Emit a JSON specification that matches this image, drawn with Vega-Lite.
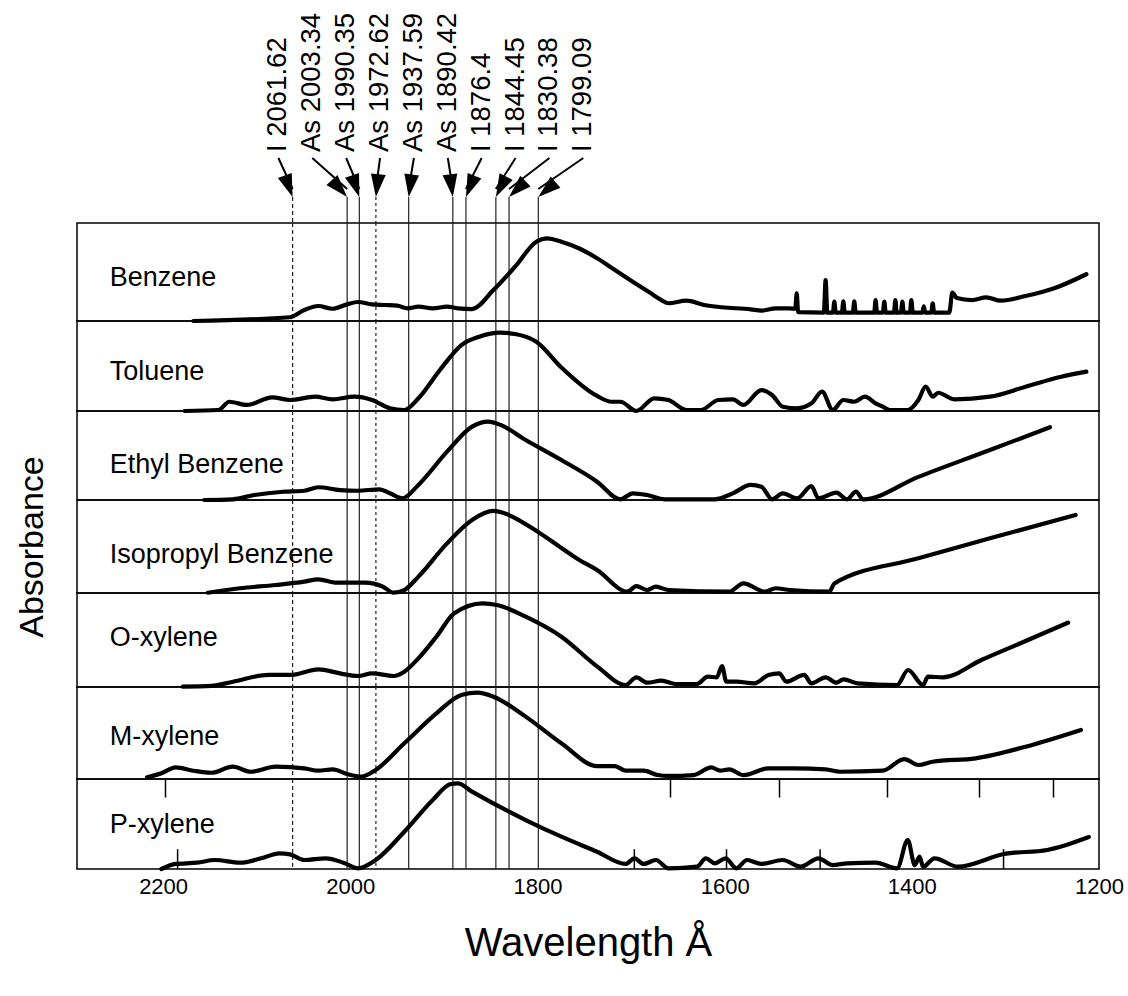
{
  "$schema": "https://vega.github.io/schema/vega-lite/v6.json",
  "padding": {"left": 14, "top": 0, "right": 10, "bottom": 10},
  "background": "white",
  "config": {
    "font": "Liberation Sans",
    "view": {"stroke": "black", "strokeWidth": 1.5},
    "axis": {"grid": false, "domain": false, "tickColor": "black", "tickWidth": 1.5, "labelColor": "black", "titleColor": "black"},
    "line": {"interpolate": "monotone", "strokeWidth": 4.2, "color": "black", "strokeJoin": "round", "strokeCap": "round"}
  },
  "datasets": {
    "lines": [
      {"label": "I 2061.62", "w": 2061.62},
      {"label": "As 2003.34", "w": 2003.34},
      {"label": "As 1990.35", "w": 1990.35},
      {"label": "As 1972.62", "w": 1972.62},
      {"label": "As 1937.59", "w": 1937.59},
      {"label": "As 1890.42", "w": 1890.42},
      {"label": "I 1876.4", "w": 1876.4},
      {"label": "I 1844.45", "w": 1844.45},
      {"label": "I 1830.38", "w": 1830.38},
      {"label": "I 1799.09", "w": 1799.09}
    ],
    "names": [
      {"c": "Benzene", "pos": 0.436},
      {"c": "Toluene", "pos": 0.437},
      {"c": "Ethyl Benzene", "pos": 0.393},
      {"c": "Isopropyl Benzene", "pos": 0.409},
      {"c": "O-xylene", "pos": 0.518},
      {"c": "M-xylene", "pos": 0.46},
      {"c": "P-xylene", "pos": 0.489}
    ],
    "spectra": [
      {"c": "Benzene", "w": 2167.6, "a": 0},
      {"c": "Benzene", "w": 2064.4, "a": 0.038},
      {"c": "Benzene", "w": 2049.1, "a": 0.112},
      {"c": "Benzene", "w": 2034.1, "a": 0.153},
      {"c": "Benzene", "w": 2019.1, "a": 0.125},
      {"c": "Benzene", "w": 2003.4, "a": 0.17},
      {"c": "Benzene", "w": 1992.0, "a": 0.194},
      {"c": "Benzene", "w": 1976.7, "a": 0.17},
      {"c": "Benzene", "w": 1963.6, "a": 0.163},
      {"c": "Benzene", "w": 1950.0, "a": 0.156},
      {"c": "Benzene", "w": 1938.6, "a": 0.129},
      {"c": "Benzene", "w": 1927.2, "a": 0.146},
      {"c": "Benzene", "w": 1911.9, "a": 0.129},
      {"c": "Benzene", "w": 1896.6, "a": 0.146},
      {"c": "Benzene", "w": 1885.1, "a": 0.129},
      {"c": "Benzene", "w": 1869.9, "a": 0.122},
      {"c": "Benzene", "w": 1847.1, "a": 0.316},
      {"c": "Benzene", "w": 1824.0, "a": 0.554},
      {"c": "Benzene", "w": 1801.2, "a": 0.809},
      {"c": "Benzene", "w": 1789.7, "a": 0.844},
      {"c": "Benzene", "w": 1774.4, "a": 0.809},
      {"c": "Benzene", "w": 1755.3, "a": 0.74},
      {"c": "Benzene", "w": 1736.3, "a": 0.64},
      {"c": "Benzene", "w": 1717.2, "a": 0.52},
      {"c": "Benzene", "w": 1698.2, "a": 0.401},
      {"c": "Benzene", "w": 1680.0, "a": 0.29},
      {"c": "Benzene", "w": 1667.6, "a": 0.214},
      {"c": "Benzene", "w": 1660.1, "a": 0.181},
      {"c": "Benzene", "w": 1640.9, "a": 0.207},
      {"c": "Benzene", "w": 1621.8, "a": 0.163},
      {"c": "Benzene", "w": 1602.8, "a": 0.14},
      {"c": "Benzene", "w": 1572.2, "a": 0.119},
      {"c": "Benzene", "w": 1560.8, "a": 0.105},
      {"c": "Benzene", "w": 1545.5, "a": 0.129},
      {"c": "Benzene", "w": 1530.2, "a": 0.129},
      {"c": "Benzene", "w": 1524.5, "a": 0.125},
      {"c": "Benzene", "w": 1523.0, "a": 0.283},
      {"c": "Benzene", "w": 1521.5, "a": 0.09},
      {"c": "Benzene", "w": 1494.0, "a": 0.085},
      {"c": "Benzene", "w": 1492.1, "a": 0.418},
      {"c": "Benzene", "w": 1490.3, "a": 0.085},
      {"c": "Benzene", "w": 1484.3, "a": 0.085},
      {"c": "Benzene", "w": 1482.8, "a": 0.197},
      {"c": "Benzene", "w": 1481.3, "a": 0.085},
      {"c": "Benzene", "w": 1474.7, "a": 0.085},
      {"c": "Benzene", "w": 1473.2, "a": 0.2},
      {"c": "Benzene", "w": 1471.7, "a": 0.085},
      {"c": "Benzene", "w": 1463.0, "a": 0.085},
      {"c": "Benzene", "w": 1461.5, "a": 0.2},
      {"c": "Benzene", "w": 1460.0, "a": 0.085},
      {"c": "Benzene", "w": 1440.2, "a": 0.085},
      {"c": "Benzene", "w": 1438.7, "a": 0.214},
      {"c": "Benzene", "w": 1437.2, "a": 0.085},
      {"c": "Benzene", "w": 1430.9, "a": 0.085},
      {"c": "Benzene", "w": 1429.4, "a": 0.197},
      {"c": "Benzene", "w": 1427.9, "a": 0.085},
      {"c": "Benzene", "w": 1419.1, "a": 0.085},
      {"c": "Benzene", "w": 1417.6, "a": 0.214},
      {"c": "Benzene", "w": 1416.1, "a": 0.085},
      {"c": "Benzene", "w": 1411.6, "a": 0.085},
      {"c": "Benzene", "w": 1410.1, "a": 0.197},
      {"c": "Benzene", "w": 1408.6, "a": 0.085},
      {"c": "Benzene", "w": 1402.0, "a": 0.085},
      {"c": "Benzene", "w": 1400.5, "a": 0.214},
      {"c": "Benzene", "w": 1399.0, "a": 0.085},
      {"c": "Benzene", "w": 1388.7, "a": 0.085},
      {"c": "Benzene", "w": 1387.2, "a": 0.15},
      {"c": "Benzene", "w": 1385.7, "a": 0.085},
      {"c": "Benzene", "w": 1379.2, "a": 0.085},
      {"c": "Benzene", "w": 1377.7, "a": 0.18},
      {"c": "Benzene", "w": 1376.2, "a": 0.085},
      {"c": "Benzene", "w": 1360.0, "a": 0.085},
      {"c": "Benzene", "w": 1356.7, "a": 0.289},
      {"c": "Benzene", "w": 1352.0, "a": 0.235},
      {"c": "Benzene", "w": 1335.7, "a": 0.214},
      {"c": "Benzene", "w": 1320.4, "a": 0.242},
      {"c": "Benzene", "w": 1305.1, "a": 0.207},
      {"c": "Benzene", "w": 1278.4, "a": 0.255},
      {"c": "Benzene", "w": 1247.8, "a": 0.334},
      {"c": "Benzene", "w": 1213.5, "a": 0.477},

      {"c": "Toluene", "w": 2177.0, "a": 0},
      {"c": "Toluene", "w": 2140.9, "a": 0.011},
      {"c": "Toluene", "w": 2129.3, "a": 0.103},
      {"c": "Toluene", "w": 2110.3, "a": 0.067},
      {"c": "Toluene", "w": 2083.5, "a": 0.152},
      {"c": "Toluene", "w": 2064.4, "a": 0.122},
      {"c": "Toluene", "w": 2037.7, "a": 0.159},
      {"c": "Toluene", "w": 2018.7, "a": 0.13},
      {"c": "Toluene", "w": 1995.7, "a": 0.159},
      {"c": "Toluene", "w": 1976.7, "a": 0.122},
      {"c": "Toluene", "w": 1957.6, "a": 0.03},
      {"c": "Toluene", "w": 1942.3, "a": 0.011},
      {"c": "Toluene", "w": 1927.2, "a": 0.141},
      {"c": "Toluene", "w": 1904.2, "a": 0.456},
      {"c": "Toluene", "w": 1881.3, "a": 0.733},
      {"c": "Toluene", "w": 1862.2, "a": 0.826},
      {"c": "Toluene", "w": 1839.3, "a": 0.87},
      {"c": "Toluene", "w": 1824.0, "a": 0.856},
      {"c": "Toluene", "w": 1801.2, "a": 0.77},
      {"c": "Toluene", "w": 1774.4, "a": 0.483},
      {"c": "Toluene", "w": 1736.3, "a": 0.167},
      {"c": "Toluene", "w": 1721.0, "a": 0.103},
      {"c": "Toluene", "w": 1711.4, "a": 0.103},
      {"c": "Toluene", "w": 1694.3, "a": 0},
      {"c": "Toluene", "w": 1675.2, "a": 0.141},
      {"c": "Toluene", "w": 1660.1, "a": 0.122},
      {"c": "Toluene", "w": 1640.9, "a": 0.011},
      {"c": "Toluene", "w": 1625.6, "a": 0.011},
      {"c": "Toluene", "w": 1606.7, "a": 0.122},
      {"c": "Toluene", "w": 1591.3, "a": 0.13},
      {"c": "Toluene", "w": 1580.0, "a": 0.067},
      {"c": "Toluene", "w": 1560.8, "a": 0.233},
      {"c": "Toluene", "w": 1549.3, "a": 0.178},
      {"c": "Toluene", "w": 1537.9, "a": 0.048},
      {"c": "Toluene", "w": 1522.6, "a": 0.03},
      {"c": "Toluene", "w": 1507.3, "a": 0.085},
      {"c": "Toluene", "w": 1495.9, "a": 0.215},
      {"c": "Toluene", "w": 1484.5, "a": 0.011},
      {"c": "Toluene", "w": 1473.2, "a": 0.122},
      {"c": "Toluene", "w": 1461.5, "a": 0.103},
      {"c": "Toluene", "w": 1450.1, "a": 0.159},
      {"c": "Toluene", "w": 1438.7, "a": 0.085},
      {"c": "Toluene", "w": 1431.1, "a": 0.048},
      {"c": "Toluene", "w": 1423.4, "a": 0.011},
      {"c": "Toluene", "w": 1404.4, "a": 0.011},
      {"c": "Toluene", "w": 1393.0, "a": 0.122},
      {"c": "Toluene", "w": 1385.2, "a": 0.27},
      {"c": "Toluene", "w": 1377.7, "a": 0.159},
      {"c": "Toluene", "w": 1371.9, "a": 0.203},
      {"c": "Toluene", "w": 1354.7, "a": 0.13},
      {"c": "Toluene", "w": 1316.5, "a": 0.159},
      {"c": "Toluene", "w": 1278.4, "a": 0.27},
      {"c": "Toluene", "w": 1240.3, "a": 0.381},
      {"c": "Toluene", "w": 1213.5, "a": 0.437},

      {"c": "Ethyl Benzene", "w": 2156.0, "a": 0},
      {"c": "Ethyl Benzene", "w": 2125.5, "a": 0.008},
      {"c": "Ethyl Benzene", "w": 2102.6, "a": 0.056},
      {"c": "Ethyl Benzene", "w": 2072.1, "a": 0.093},
      {"c": "Ethyl Benzene", "w": 2049.1, "a": 0.104},
      {"c": "Ethyl Benzene", "w": 2034.1, "a": 0.143},
      {"c": "Ethyl Benzene", "w": 2011.0, "a": 0.112},
      {"c": "Ethyl Benzene", "w": 1991.9, "a": 0.104},
      {"c": "Ethyl Benzene", "w": 1969.0, "a": 0.12},
      {"c": "Ethyl Benzene", "w": 1957.6, "a": 0.075},
      {"c": "Ethyl Benzene", "w": 1944.2, "a": 0.019},
      {"c": "Ethyl Benzene", "w": 1927.2, "a": 0.169},
      {"c": "Ethyl Benzene", "w": 1896.6, "a": 0.543},
      {"c": "Ethyl Benzene", "w": 1869.9, "a": 0.824},
      {"c": "Ethyl Benzene", "w": 1852.7, "a": 0.88},
      {"c": "Ethyl Benzene", "w": 1839.3, "a": 0.843},
      {"c": "Ethyl Benzene", "w": 1812.6, "a": 0.674},
      {"c": "Ethyl Benzene", "w": 1774.4, "a": 0.449},
      {"c": "Ethyl Benzene", "w": 1736.3, "a": 0.206},
      {"c": "Ethyl Benzene", "w": 1711.4, "a": 0.008},
      {"c": "Ethyl Benzene", "w": 1698.2, "a": 0.075},
      {"c": "Ethyl Benzene", "w": 1682.9, "a": 0.056},
      {"c": "Ethyl Benzene", "w": 1663.8, "a": 0.008},
      {"c": "Ethyl Benzene", "w": 1610.4, "a": 0.008},
      {"c": "Ethyl Benzene", "w": 1591.3, "a": 0.075},
      {"c": "Ethyl Benzene", "w": 1572.2, "a": 0.169},
      {"c": "Ethyl Benzene", "w": 1560.8, "a": 0.15},
      {"c": "Ethyl Benzene", "w": 1549.3, "a": 0.008},
      {"c": "Ethyl Benzene", "w": 1537.9, "a": 0.075},
      {"c": "Ethyl Benzene", "w": 1522.6, "a": 0.019},
      {"c": "Ethyl Benzene", "w": 1507.3, "a": 0.157},
      {"c": "Ethyl Benzene", "w": 1499.8, "a": 0.019},
      {"c": "Ethyl Benzene", "w": 1480.6, "a": 0.082},
      {"c": "Ethyl Benzene", "w": 1469.2, "a": 0.008},
      {"c": "Ethyl Benzene", "w": 1459.7, "a": 0.093},
      {"c": "Ethyl Benzene", "w": 1452.0, "a": 0.008},
      {"c": "Ethyl Benzene", "w": 1393.0, "a": 0.26},
      {"c": "Ethyl Benzene", "w": 1316.5, "a": 0.562},
      {"c": "Ethyl Benzene", "w": 1252.4, "a": 0.817},

      {"c": "Isopropyl Benzene", "w": 2152.2, "a": 0.003},
      {"c": "Isopropyl Benzene", "w": 2117.8, "a": 0.051},
      {"c": "Isopropyl Benzene", "w": 2079.7, "a": 0.086},
      {"c": "Isopropyl Benzene", "w": 2049.1, "a": 0.122},
      {"c": "Isopropyl Benzene", "w": 2034.1, "a": 0.147},
      {"c": "Isopropyl Benzene", "w": 2014.8, "a": 0.111},
      {"c": "Isopropyl Benzene", "w": 1984.3, "a": 0.111},
      {"c": "Isopropyl Benzene", "w": 1965.3, "a": 0.068},
      {"c": "Isopropyl Benzene", "w": 1953.8, "a": 0.003},
      {"c": "Isopropyl Benzene", "w": 1942.3, "a": 0.032},
      {"c": "Isopropyl Benzene", "w": 1927.2, "a": 0.176},
      {"c": "Isopropyl Benzene", "w": 1896.6, "a": 0.534},
      {"c": "Isopropyl Benzene", "w": 1869.9, "a": 0.785},
      {"c": "Isopropyl Benzene", "w": 1847.0, "a": 0.882},
      {"c": "Isopropyl Benzene", "w": 1835.5, "a": 0.857},
      {"c": "Isopropyl Benzene", "w": 1797.3, "a": 0.642},
      {"c": "Isopropyl Benzene", "w": 1774.4, "a": 0.484},
      {"c": "Isopropyl Benzene", "w": 1755.3, "a": 0.355},
      {"c": "Isopropyl Benzene", "w": 1736.3, "a": 0.247},
      {"c": "Isopropyl Benzene", "w": 1703.9, "a": 0.014},
      {"c": "Isopropyl Benzene", "w": 1694.3, "a": 0.075},
      {"c": "Isopropyl Benzene", "w": 1682.9, "a": 0.032},
      {"c": "Isopropyl Benzene", "w": 1673.4, "a": 0.068},
      {"c": "Isopropyl Benzene", "w": 1660.1, "a": 0.032},
      {"c": "Isopropyl Benzene", "w": 1595.1, "a": 0.014},
      {"c": "Isopropyl Benzene", "w": 1580.0, "a": 0.104},
      {"c": "Isopropyl Benzene", "w": 1556.9, "a": 0.014},
      {"c": "Isopropyl Benzene", "w": 1545.5, "a": 0.051},
      {"c": "Isopropyl Benzene", "w": 1530.2, "a": 0.032},
      {"c": "Isopropyl Benzene", "w": 1488.2, "a": 0.014},
      {"c": "Isopropyl Benzene", "w": 1482.6, "a": 0.104},
      {"c": "Isopropyl Benzene", "w": 1393.0, "a": 0.373},
      {"c": "Isopropyl Benzene", "w": 1316.5, "a": 0.588},
      {"c": "Isopropyl Benzene", "w": 1225.0, "a": 0.839},

      {"c": "O-xylene", "w": 2179.1, "a": 0.003},
      {"c": "O-xylene", "w": 2148.4, "a": 0.011},
      {"c": "O-xylene", "w": 2125.5, "a": 0.056},
      {"c": "O-xylene", "w": 2087.4, "a": 0.128},
      {"c": "O-xylene", "w": 2064.4, "a": 0.128},
      {"c": "O-xylene", "w": 2034.1, "a": 0.188},
      {"c": "O-xylene", "w": 2011.0, "a": 0.145},
      {"c": "O-xylene", "w": 1991.9, "a": 0.117},
      {"c": "O-xylene", "w": 1976.7, "a": 0.145},
      {"c": "O-xylene", "w": 1953.8, "a": 0.117},
      {"c": "O-xylene", "w": 1942.3, "a": 0.163},
      {"c": "O-xylene", "w": 1927.2, "a": 0.305},
      {"c": "O-xylene", "w": 1908.0, "a": 0.535},
      {"c": "O-xylene", "w": 1888.9, "a": 0.784},
      {"c": "O-xylene", "w": 1858.4, "a": 0.89},
      {"c": "O-xylene", "w": 1843.2, "a": 0.872},
      {"c": "O-xylene", "w": 1812.6, "a": 0.748},
      {"c": "O-xylene", "w": 1774.4, "a": 0.535},
      {"c": "O-xylene", "w": 1736.3, "a": 0.22},
      {"c": "O-xylene", "w": 1705.8, "a": 0.021},
      {"c": "O-xylene", "w": 1694.3, "a": 0.103},
      {"c": "O-xylene", "w": 1682.9, "a": 0.046},
      {"c": "O-xylene", "w": 1667.6, "a": 0.067},
      {"c": "O-xylene", "w": 1652.3, "a": 0.032},
      {"c": "O-xylene", "w": 1629.5, "a": 0.032},
      {"c": "O-xylene", "w": 1618.0, "a": 0.11},
      {"c": "O-xylene", "w": 1608.4, "a": 0.103},
      {"c": "O-xylene", "w": 1602.8, "a": 0.223},
      {"c": "O-xylene", "w": 1598.2, "a": 0.057},
      {"c": "O-xylene", "w": 1587.5, "a": 0.057},
      {"c": "O-xylene", "w": 1568.4, "a": 0.039},
      {"c": "O-xylene", "w": 1553.2, "a": 0.128},
      {"c": "O-xylene", "w": 1541.7, "a": 0.145},
      {"c": "O-xylene", "w": 1534.1, "a": 0.057},
      {"c": "O-xylene", "w": 1515.0, "a": 0.128},
      {"c": "O-xylene", "w": 1507.3, "a": 0.039},
      {"c": "O-xylene", "w": 1492.1, "a": 0.103},
      {"c": "O-xylene", "w": 1480.6, "a": 0.046},
      {"c": "O-xylene", "w": 1473.0, "a": 0.082},
      {"c": "O-xylene", "w": 1457.8, "a": 0.039},
      {"c": "O-xylene", "w": 1415.8, "a": 0.021},
      {"c": "O-xylene", "w": 1404.0, "a": 0.181},
      {"c": "O-xylene", "w": 1388.0, "a": 0.021},
      {"c": "O-xylene", "w": 1382.7, "a": 0.11},
      {"c": "O-xylene", "w": 1366.7, "a": 0.103},
      {"c": "O-xylene", "w": 1325.7, "a": 0.287},
      {"c": "O-xylene", "w": 1278.4, "a": 0.489},
      {"c": "O-xylene", "w": 1233.1, "a": 0.684},

      {"c": "M-xylene", "w": 2217.1, "a": 0.018},
      {"c": "M-xylene", "w": 2201.8, "a": 0.062},
      {"c": "M-xylene", "w": 2186.5, "a": 0.127},
      {"c": "M-xylene", "w": 2167.5, "a": 0.09},
      {"c": "M-xylene", "w": 2148.4, "a": 0.068},
      {"c": "M-xylene", "w": 2125.5, "a": 0.134},
      {"c": "M-xylene", "w": 2106.4, "a": 0.079},
      {"c": "M-xylene", "w": 2079.7, "a": 0.134},
      {"c": "M-xylene", "w": 2049.1, "a": 0.116},
      {"c": "M-xylene", "w": 2034.1, "a": 0.09},
      {"c": "M-xylene", "w": 2018.7, "a": 0.105},
      {"c": "M-xylene", "w": 2003.4, "a": 0.054},
      {"c": "M-xylene", "w": 1988.1, "a": 0.025},
      {"c": "M-xylene", "w": 1972.9, "a": 0.098},
      {"c": "M-xylene", "w": 1942.3, "a": 0.388},
      {"c": "M-xylene", "w": 1908.0, "a": 0.714},
      {"c": "M-xylene", "w": 1881.3, "a": 0.913},
      {"c": "M-xylene", "w": 1864.1, "a": 0.938},
      {"c": "M-xylene", "w": 1847.0, "a": 0.895},
      {"c": "M-xylene", "w": 1812.6, "a": 0.678},
      {"c": "M-xylene", "w": 1774.4, "a": 0.388},
      {"c": "M-xylene", "w": 1736.3, "a": 0.141},
      {"c": "M-xylene", "w": 1717.2, "a": 0.141},
      {"c": "M-xylene", "w": 1705.8, "a": 0.09},
      {"c": "M-xylene", "w": 1686.7, "a": 0.09},
      {"c": "M-xylene", "w": 1671.5, "a": 0.043},
      {"c": "M-xylene", "w": 1660.0, "a": 0.033},
      {"c": "M-xylene", "w": 1633.3, "a": 0.043},
      {"c": "M-xylene", "w": 1614.2, "a": 0.127},
      {"c": "M-xylene", "w": 1604.7, "a": 0.09},
      {"c": "M-xylene", "w": 1595.1, "a": 0.105},
      {"c": "M-xylene", "w": 1579.9, "a": 0.043},
      {"c": "M-xylene", "w": 1553.2, "a": 0.116},
      {"c": "M-xylene", "w": 1526.5, "a": 0.116},
      {"c": "M-xylene", "w": 1492.1, "a": 0.105},
      {"c": "M-xylene", "w": 1476.8, "a": 0.079},
      {"c": "M-xylene", "w": 1431.1, "a": 0.09},
      {"c": "M-xylene", "w": 1408.1, "a": 0.217},
      {"c": "M-xylene", "w": 1392.9, "a": 0.152},
      {"c": "M-xylene", "w": 1377.7, "a": 0.188},
      {"c": "M-xylene", "w": 1331.8, "a": 0.225},
      {"c": "M-xylene", "w": 1278.4, "a": 0.351},
      {"c": "M-xylene", "w": 1219.3, "a": 0.533},

      {"c": "P-xylene", "w": 2201.8, "a": 0},
      {"c": "P-xylene", "w": 2186.5, "a": 0.056},
      {"c": "P-xylene", "w": 2163.7, "a": 0.07},
      {"c": "P-xylene", "w": 2144.5, "a": 0.1},
      {"c": "P-xylene", "w": 2117.8, "a": 0.07},
      {"c": "P-xylene", "w": 2095.0, "a": 0.119},
      {"c": "P-xylene", "w": 2075.9, "a": 0.174},
      {"c": "P-xylene", "w": 2064.4, "a": 0.163},
      {"c": "P-xylene", "w": 2049.1, "a": 0.1},
      {"c": "P-xylene", "w": 2026.3, "a": 0.119},
      {"c": "P-xylene", "w": 2007.3, "a": 0.07},
      {"c": "P-xylene", "w": 1992.0, "a": 0.008},
      {"c": "P-xylene", "w": 1972.9, "a": 0.1},
      {"c": "P-xylene", "w": 1942.3, "a": 0.414},
      {"c": "P-xylene", "w": 1911.9, "a": 0.767},
      {"c": "P-xylene", "w": 1892.7, "a": 0.944},
      {"c": "P-xylene", "w": 1885.1, "a": 0.952},
      {"c": "P-xylene", "w": 1869.9, "a": 0.859},
      {"c": "P-xylene", "w": 1812.6, "a": 0.544},
      {"c": "P-xylene", "w": 1774.4, "a": 0.359},
      {"c": "P-xylene", "w": 1736.3, "a": 0.192},
      {"c": "P-xylene", "w": 1705.8, "a": 0.056},
      {"c": "P-xylene", "w": 1696.3, "a": 0.119},
      {"c": "P-xylene", "w": 1686.7, "a": 0.056},
      {"c": "P-xylene", "w": 1673.4, "a": 0.1},
      {"c": "P-xylene", "w": 1660.0, "a": 0.008},
      {"c": "P-xylene", "w": 1629.5, "a": 0.026},
      {"c": "P-xylene", "w": 1620.0, "a": 0.119},
      {"c": "P-xylene", "w": 1610.4, "a": 0.063},
      {"c": "P-xylene", "w": 1599.0, "a": 0.119},
      {"c": "P-xylene", "w": 1587.5, "a": 0.008},
      {"c": "P-xylene", "w": 1576.1, "a": 0.1},
      {"c": "P-xylene", "w": 1560.8, "a": 0.056},
      {"c": "P-xylene", "w": 1537.9, "a": 0.1},
      {"c": "P-xylene", "w": 1518.8, "a": 0.026},
      {"c": "P-xylene", "w": 1499.8, "a": 0.119},
      {"c": "P-xylene", "w": 1484.5, "a": 0.044},
      {"c": "P-xylene", "w": 1469.2, "a": 0.063},
      {"c": "P-xylene", "w": 1438.7, "a": 0.07},
      {"c": "P-xylene", "w": 1415.8, "a": 0.008},
      {"c": "P-xylene", "w": 1404.3, "a": 0.322},
      {"c": "P-xylene", "w": 1396.8, "a": 0.044},
      {"c": "P-xylene", "w": 1391.7, "a": 0.137},
      {"c": "P-xylene", "w": 1388.0, "a": 0.026},
      {"c": "P-xylene", "w": 1375.7, "a": 0.119},
      {"c": "P-xylene", "w": 1350.8, "a": 0.026},
      {"c": "P-xylene", "w": 1301.2, "a": 0.167},
      {"c": "P-xylene", "w": 1255.2, "a": 0.211},
      {"c": "P-xylene", "w": 1210.9, "a": 0.355}
    ]
  },
  "vconcat": [
    {
      "width": 1022,
      "height": 223,
      "view": {"stroke": null},
      "data": {"name": "lines"},
      "transform": [
        {"window": [{"op": "row_number", "as": "rank"}], "sort": [{"field": "w", "order": "descending"}]},
        {"calculate": "2076.8 - (datum.rank - 1) * 36.2", "as": "lx"},
        {"calculate": "atan2(-(datum.lx - datum.w) * 0.936, 39) * 180 / PI", "as": "ang"}
      ],
      "layer": [
        {
          "mark": {"type": "rule", "strokeWidth": 1.2, "color": "#222"},
          "encoding": {
            "x": {"field": "w", "type": "quantitative", "scale": {"domain": [1200, 2292], "reverse": true, "nice": false, "zero": false}, "axis": null},
            "y": {"datum": 26, "type": "quantitative", "scale": {"domain": [0, 223], "nice": false}, "axis": null},
            "y2": {"datum": 0},
            "strokeDash": {"field": "label", "type": "nominal", "legend": null, "scale": {"domain": ["I 2061.62", "As 2003.34", "As 1990.35", "As 1972.62", "As 1937.59", "As 1890.42", "I 1876.4", "I 1844.45", "I 1830.38", "I 1799.09"], "range": [[4, 3], [1, 0], [1, 0], [3, 3], [1, 0], [1, 0], [1, 0], [1, 0], [1, 0], [1, 0]]}}
          }
        },
        {
          "mark": {"type": "rule", "strokeWidth": 2, "color": "black"},
          "encoding": {
            "x": {"field": "lx", "type": "quantitative", "axis": null},
            "x2": {"field": "w"},
            "y": {"datum": 65, "type": "quantitative", "axis": null},
            "y2": {"datum": 34}
          }
        },
        {
          "mark": {"type": "point", "shape": "M0,0L-0.65,-2L0.65,-2Z", "filled": true, "color": "black", "opacity": 1, "size": 520},
          "encoding": {
            "x": {"field": "w", "type": "quantitative", "axis": null},
            "y": {"datum": 26, "type": "quantitative", "axis": null},
            "angle": {"field": "ang", "type": "quantitative", "scale": null}
          }
        },
        {
          "mark": {"type": "text", "angle": 270, "align": "left", "baseline": "middle", "fontSize": 27.5, "color": "black"},
          "encoding": {
            "x": {"field": "lx", "type": "quantitative", "axis": null},
            "y": {"datum": 71, "type": "quantitative", "axis": null},
            "text": {"field": "label", "type": "nominal"}
          }
        }
      ]
    },
    {
      "width": 1022,
      "height": 98,
      "layer": [
        {"data": {"name": "lines"}, "mark": {"type": "rule", "strokeWidth": 1.2, "color": "#222"},
          "encoding": {
            "x": {"field": "w", "type": "quantitative", "scale": {"domain": [1200, 2292], "reverse": true, "nice": false, "zero": false},
              "axis": {"orient": "top", "values": [2188.5, 1701.8, 1600.9, 1502.5, 1404.4, 1308.2], "tickSize": -25, "labels": false, "title": null, "domain": false}},
            "strokeDash": {"field": "label", "type": "nominal", "legend": null, "scale": {"domain": ["I 2061.62", "As 2003.34", "As 1990.35", "As 1972.62", "As 1937.59", "As 1890.42", "I 1876.4", "I 1844.45", "I 1830.38", "I 1799.09"], "range": [[4, 3], [1, 0], [1, 0], [3, 3], [1, 0], [1, 0], [1, 0], [1, 0], [1, 0], [1, 0]]}}}},
        {"data": {"name": "spectra"}, "transform": [{"filter": "datum.c === 'Benzene'"}],
          "mark": {"type": "line"},
          "encoding": {"x": {"field": "w", "type": "quantitative", "axis": null}, "y": {"field": "a", "type": "quantitative", "scale": {"domain": [0, 1], "nice": false}, "axis": null}}},
        {"data": {"name": "names"}, "transform": [{"filter": "datum.c === 'Benzene'"}],
          "mark": {"type": "text", "align": "left", "baseline": "middle", "fontSize": 27, "color": "black"},
          "encoding": {"x": {"datum": 2257, "type": "quantitative", "axis": null}, "y": {"field": "pos", "type": "quantitative", "axis": null}, "text": {"field": "c", "type": "nominal"}}}
      ]
    },
    {
      "width": 1022,
      "height": 90,
      "layer": [
        {"data": {"name": "lines"}, "mark": {"type": "rule", "strokeWidth": 1.2, "color": "#222"},
          "encoding": {
            "x": {"field": "w", "type": "quantitative", "scale": {"domain": [1200, 2292], "reverse": true, "nice": false, "zero": false},
              "axis": {"orient": "top", "values": [2200, 1660.8, 1544.3, 1429.2, 1330.7, 1252.5], "tickSize": -20, "labels": false, "title": null, "domain": false}},
            "strokeDash": {"field": "label", "type": "nominal", "legend": null, "scale": {"domain": ["I 2061.62", "As 2003.34", "As 1990.35", "As 1972.62", "As 1937.59", "As 1890.42", "I 1876.4", "I 1844.45", "I 1830.38", "I 1799.09"], "range": [[4, 3], [1, 0], [1, 0], [3, 3], [1, 0], [1, 0], [1, 0], [1, 0], [1, 0], [1, 0]]}}}},
        {"data": {"name": "spectra"}, "transform": [{"filter": "datum.c === 'Toluene'"}],
          "mark": {"type": "line"},
          "encoding": {"x": {"field": "w", "type": "quantitative", "axis": null}, "y": {"field": "a", "type": "quantitative", "scale": {"domain": [0, 1], "nice": false}, "axis": null}}},
        {"data": {"name": "names"}, "transform": [{"filter": "datum.c === 'Toluene'"}],
          "mark": {"type": "text", "align": "left", "baseline": "middle", "fontSize": 27, "color": "black"},
          "encoding": {"x": {"datum": 2257, "type": "quantitative", "axis": null}, "y": {"field": "pos", "type": "quantitative", "axis": null}, "text": {"field": "c", "type": "nominal"}}}
      ]
    },
    {
      "width": 1022,
      "height": 89,
      "layer": [
        {"data": {"name": "lines"}, "mark": {"type": "rule", "strokeWidth": 1.2, "color": "#222"},
          "encoding": {
            "x": {"field": "w", "type": "quantitative", "scale": {"domain": [1200, 2292], "reverse": true, "nice": false, "zero": false},
              "axis": {"orient": "top", "values": [2199.9, 1660.1, 1543.6, 1428.5, 1331.3, 1252.5], "tickSize": -20, "labels": false, "title": null, "domain": false}},
            "strokeDash": {"field": "label", "type": "nominal", "legend": null, "scale": {"domain": ["I 2061.62", "As 2003.34", "As 1990.35", "As 1972.62", "As 1937.59", "As 1890.42", "I 1876.4", "I 1844.45", "I 1830.38", "I 1799.09"], "range": [[4, 3], [1, 0], [1, 0], [3, 3], [1, 0], [1, 0], [1, 0], [1, 0], [1, 0], [1, 0]]}}}},
        {"data": {"name": "spectra"}, "transform": [{"filter": "datum.c === 'Ethyl Benzene'"}],
          "mark": {"type": "line"},
          "encoding": {"x": {"field": "w", "type": "quantitative", "axis": null}, "y": {"field": "a", "type": "quantitative", "scale": {"domain": [0, 1], "nice": false}, "axis": null}}},
        {"data": {"name": "names"}, "transform": [{"filter": "datum.c === 'Ethyl Benzene'"}],
          "mark": {"type": "text", "align": "left", "baseline": "middle", "fontSize": 27, "color": "black"},
          "encoding": {"x": {"datum": 2257, "type": "quantitative", "axis": null}, "y": {"field": "pos", "type": "quantitative", "axis": null}, "text": {"field": "c", "type": "nominal"}}}
      ]
    },
    {
      "width": 1022,
      "height": 93,
      "layer": [
        {"data": {"name": "lines"}, "mark": {"type": "rule", "strokeWidth": 1.2, "color": "#222"},
          "encoding": {
            "x": {"field": "w", "type": "quantitative", "scale": {"domain": [1200, 2292], "reverse": true, "nice": false, "zero": false},
              "axis": {"orient": "top", "values": [2199.1, 1659.1, 1542.8, 1427.2, 1330.0, 1252.0], "tickSize": -20, "labels": false, "title": null, "domain": false}},
            "strokeDash": {"field": "label", "type": "nominal", "legend": null, "scale": {"domain": ["I 2061.62", "As 2003.34", "As 1990.35", "As 1972.62", "As 1937.59", "As 1890.42", "I 1876.4", "I 1844.45", "I 1830.38", "I 1799.09"], "range": [[4, 3], [1, 0], [1, 0], [3, 3], [1, 0], [1, 0], [1, 0], [1, 0], [1, 0], [1, 0]]}}}},
        {"data": {"name": "spectra"}, "transform": [{"filter": "datum.c === 'Isopropyl Benzene'"}],
          "mark": {"type": "line"},
          "encoding": {"x": {"field": "w", "type": "quantitative", "axis": null}, "y": {"field": "a", "type": "quantitative", "scale": {"domain": [0, 1], "nice": false},
            "axis": {"title": "Absorbance", "labels": false, "ticks": false, "domain": false, "titleFontSize": 34, "titleFontWeight": "normal", "titlePadding": 28}}}},
        {"data": {"name": "names"}, "transform": [{"filter": "datum.c === 'Isopropyl Benzene'"}],
          "mark": {"type": "text", "align": "left", "baseline": "middle", "fontSize": 27, "color": "black"},
          "encoding": {"x": {"datum": 2257, "type": "quantitative", "axis": null}, "y": {"field": "pos", "type": "quantitative",
            "axis": {"title": "Absorbance", "labels": false, "ticks": false, "domain": false, "titleFontSize": 34, "titleFontWeight": "normal", "titlePadding": 28}}, "text": {"field": "c", "type": "nominal"}}}
      ]
    },
    {
      "width": 1022,
      "height": 94,
      "layer": [
        {"data": {"name": "lines"}, "mark": {"type": "rule", "strokeWidth": 1.2, "color": "#222"},
          "encoding": {
            "x": {"field": "w", "type": "quantitative", "scale": {"domain": [1200, 2292], "reverse": true, "nice": false, "zero": false},
              "axis": {"orient": "top", "values": [2198.3, 1659.1, 1541.6, 1427.2, 1328.9, 1250.9], "tickSize": -20, "labels": false, "title": null, "domain": false}},
            "strokeDash": {"field": "label", "type": "nominal", "legend": null, "scale": {"domain": ["I 2061.62", "As 2003.34", "As 1990.35", "As 1972.62", "As 1937.59", "As 1890.42", "I 1876.4", "I 1844.45", "I 1830.38", "I 1799.09"], "range": [[4, 3], [1, 0], [1, 0], [3, 3], [1, 0], [1, 0], [1, 0], [1, 0], [1, 0], [1, 0]]}}}},
        {"data": {"name": "spectra"}, "transform": [{"filter": "datum.c === 'O-xylene'"}],
          "mark": {"type": "line"},
          "encoding": {"x": {"field": "w", "type": "quantitative", "axis": null}, "y": {"field": "a", "type": "quantitative", "scale": {"domain": [0, 1], "nice": false}, "axis": null}}},
        {"data": {"name": "names"}, "transform": [{"filter": "datum.c === 'O-xylene'"}],
          "mark": {"type": "text", "align": "left", "baseline": "middle", "fontSize": 27, "color": "black"},
          "encoding": {"x": {"datum": 2257, "type": "quantitative", "axis": null}, "y": {"field": "pos", "type": "quantitative", "axis": null}, "text": {"field": "c", "type": "nominal"}}}
      ]
    },
    {
      "width": 1022,
      "height": 92,
      "layer": [
        {"data": {"name": "lines"}, "mark": {"type": "rule", "strokeWidth": 1.2, "color": "#222"},
          "encoding": {
            "x": {"field": "w", "type": "quantitative", "scale": {"domain": [1200, 2292], "reverse": true, "nice": false, "zero": false},
              "axis": {"orient": "top", "values": [2198.3, 1658.0, 1541.6, 1426.1, 1327.9, 1248.8], "tickSize": -20, "labels": false, "title": null, "domain": false}},
            "strokeDash": {"field": "label", "type": "nominal", "legend": null, "scale": {"domain": ["I 2061.62", "As 2003.34", "As 1990.35", "As 1972.62", "As 1937.59", "As 1890.42", "I 1876.4", "I 1844.45", "I 1830.38", "I 1799.09"], "range": [[4, 3], [1, 0], [1, 0], [3, 3], [1, 0], [1, 0], [1, 0], [1, 0], [1, 0], [1, 0]]}}}},
        {"data": {"name": "spectra"}, "transform": [{"filter": "datum.c === 'M-xylene'"}],
          "mark": {"type": "line"},
          "encoding": {"x": {"field": "w", "type": "quantitative", "axis": null}, "y": {"field": "a", "type": "quantitative", "scale": {"domain": [0, 1], "nice": false}, "axis": null}}},
        {"data": {"name": "names"}, "transform": [{"filter": "datum.c === 'M-xylene'"}],
          "mark": {"type": "text", "align": "left", "baseline": "middle", "fontSize": 27, "color": "black"},
          "encoding": {"x": {"datum": 2257, "type": "quantitative", "axis": null}, "y": {"field": "pos", "type": "quantitative", "axis": null}, "text": {"field": "c", "type": "nominal"}}}
      ]
    },
    {
      "width": 1022,
      "height": 90,
      "resolve": {"axis": {"x": "independent"}},
      "layer": [
        {"data": {"name": "lines"}, "mark": {"type": "rule", "strokeWidth": 1.2, "color": "#222"},
          "encoding": {
            "x": {"field": "w", "type": "quantitative", "scale": {"domain": [1200, 2292], "reverse": true, "nice": false, "zero": false},
              "axis": {"orient": "top", "values": [2198.3, 1658.0, 1541.6, 1426.1, 1327.9, 1248.8], "tickSize": -18, "labels": false, "title": null, "domain": false}},
            "strokeDash": {"field": "label", "type": "nominal", "legend": null, "scale": {"domain": ["I 2061.62", "As 2003.34", "As 1990.35", "As 1972.62", "As 1937.59", "As 1890.42", "I 1876.4", "I 1844.45", "I 1830.38", "I 1799.09"], "range": [[4, 3], [1, 0], [1, 0], [3, 3], [1, 0], [1, 0], [1, 0], [1, 0], [1, 0], [1, 0]]}}}},
        {"data": {"name": "spectra"}, "transform": [{"filter": "datum.c === 'P-xylene'"}],
          "mark": {"type": "line"},
          "encoding": {
            "x": {"field": "w", "type": "quantitative",
              "axis": {"orient": "bottom", "values": [2200, 2000, 1800, 1600, 1400, 1200], "format": "d", "ticks": false, "domain": false, "labelFont": "Liberation Sans", "labelFontSize": 22, "labelPadding": 7, "labelFlush": false, "labelOverlap": false, "title": "Wavelength Å", "titleFontSize": 40, "titleFontWeight": "normal", "titlePadding": 26}},
            "y": {"field": "a", "type": "quantitative", "scale": {"domain": [0, 1], "nice": false}, "axis": null}}},
        {"data": {"values": [{"w": 2184.5}, {"w": 1696.5}, {"w": 1598.0}, {"w": 1498.0}, {"w": 1302.0}]},
          "mark": {"type": "rule", "strokeWidth": 1.5, "color": "black"},
          "encoding": {"x": {"field": "w", "type": "quantitative", "axis": null}, "y": {"datum": 0, "axis": null}, "y2": {"datum": 0.22}}},
        {"data": {"name": "names"}, "transform": [{"filter": "datum.c === 'P-xylene'"}],
          "mark": {"type": "text", "align": "left", "baseline": "middle", "fontSize": 27, "color": "black"},
          "encoding": {"x": {"datum": 2257, "type": "quantitative", "axis": null}, "y": {"field": "pos", "type": "quantitative", "axis": null}, "text": {"field": "c", "type": "nominal"}}}
      ]
    }
  ],
  "spacing": 0,
  "bounds": "flush"
}
